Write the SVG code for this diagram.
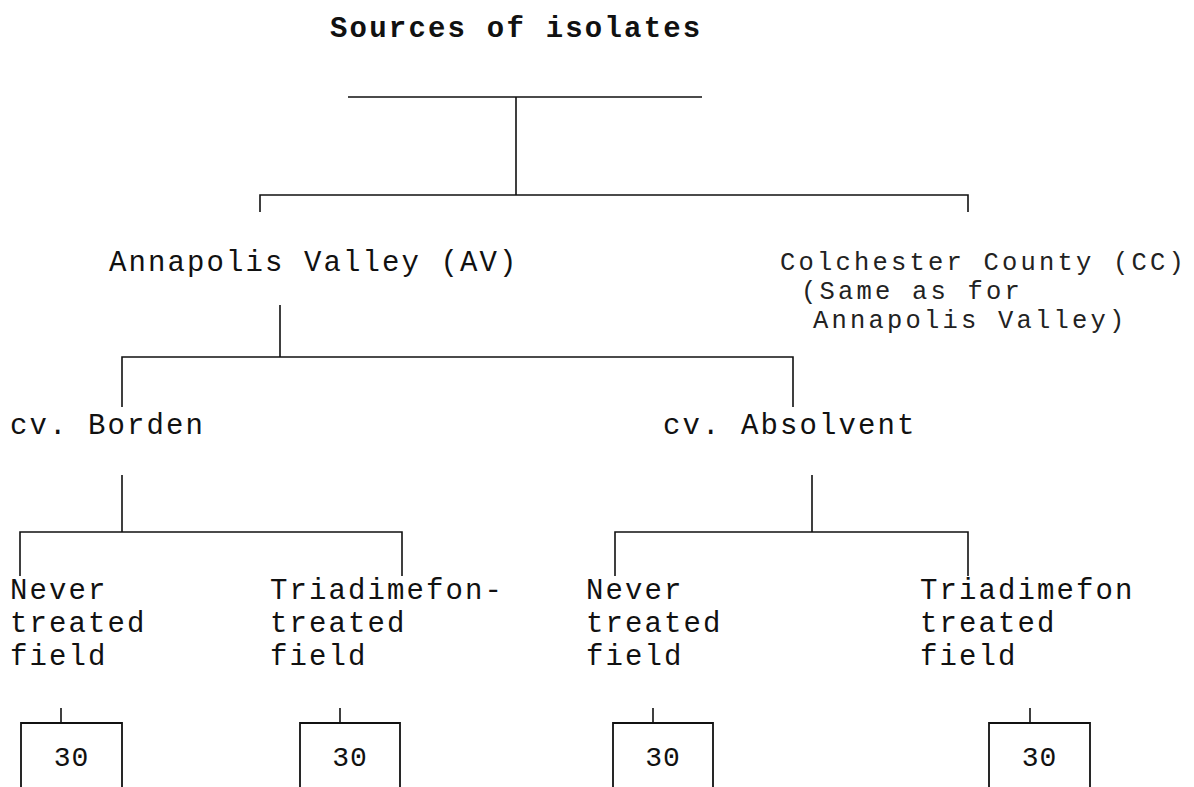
<svg xmlns="http://www.w3.org/2000/svg" width="1194" height="787" viewBox="0 0 1194 787">
<style>
.t{font-family:"Liberation Mono","DejaVu Sans Mono",monospace;font-size:29px;letter-spacing:2.1px;fill:#111}
.r{font-family:"Liberation Mono","DejaVu Sans Mono",monospace;font-size:25.5px;letter-spacing:3.2px;fill:#222}
.b{font-family:"Liberation Mono","DejaVu Sans Mono",monospace;font-size:29px;letter-spacing:2.2px;font-weight:bold;fill:#111}
.n{font-family:"Liberation Mono","DejaVu Sans Mono",monospace;font-size:28px;letter-spacing:1px;fill:#111}
.l{stroke:#111;stroke-width:1.6;fill:none}
.box{stroke:#111;stroke-width:1.8;fill:none}
</style>
<rect width="1194" height="787" fill="#fff"/>
<g id="connectors">
<path class="l" d="M348 97H702M516 97V195M260 212V195H968V212"/>
<path class="l" d="M280 305V357M122 407V357H793V407"/>
<path class="l" d="M122 475V532M20 576V532H402V576"/>
<path class="l" d="M812 475V532M615 576V532H968V576"/>
<path class="l" d="M61 708V723M340 708V723M653 708V723M1030 708V723"/>
</g>
<g id="title"><text class="b" x="330" y="37">Sources of isolates</text></g>
<g id="av"><text class="t" x="109" y="271">Annapolis Valley (AV)</text></g>
<g id="cc"><text class="r" x="780" y="270">Colchester County (CC)</text>
<text class="r" x="801" y="299">(Same as for</text>
<text class="r" x="813" y="328">Annapolis Valley)</text></g>
<g id="borden"><text class="t" x="10" y="434">cv. Borden</text></g>
<g id="absolvent"><text class="t" x="663" y="434">cv. Absolvent</text></g>
<g id="b-never"><text class="t" x="10" y="599">Never</text><text class="t" x="10" y="632">treated</text><text class="t" x="10" y="665">field</text></g>
<g id="b-tria"><text class="t" x="270" y="599">Triadimefon-</text><text class="t" x="270" y="632">treated</text><text class="t" x="270" y="665">field</text></g>
<g id="a-never"><text class="t" x="586" y="599">Never</text><text class="t" x="586" y="632">treated</text><text class="t" x="586" y="665">field</text></g>
<g id="a-tria"><text class="t" x="920" y="599">Triadimefon</text><text class="t" x="920" y="632">treated</text><text class="t" x="920" y="665">field</text></g>
<g id="box1"><path class="box" d="M21 790V723H122V790"/><text class="n" x="71.5" y="766" text-anchor="middle">30</text></g>
<g id="box2"><path class="box" d="M300 790V723H400V790"/><text class="n" x="350" y="766" text-anchor="middle">30</text></g>
<g id="box3"><path class="box" d="M613 790V723H713V790"/><text class="n" x="663" y="766" text-anchor="middle">30</text></g>
<g id="box4"><path class="box" d="M989 790V723H1090V790"/><text class="n" x="1039.5" y="766" text-anchor="middle">30</text></g>
</svg>
